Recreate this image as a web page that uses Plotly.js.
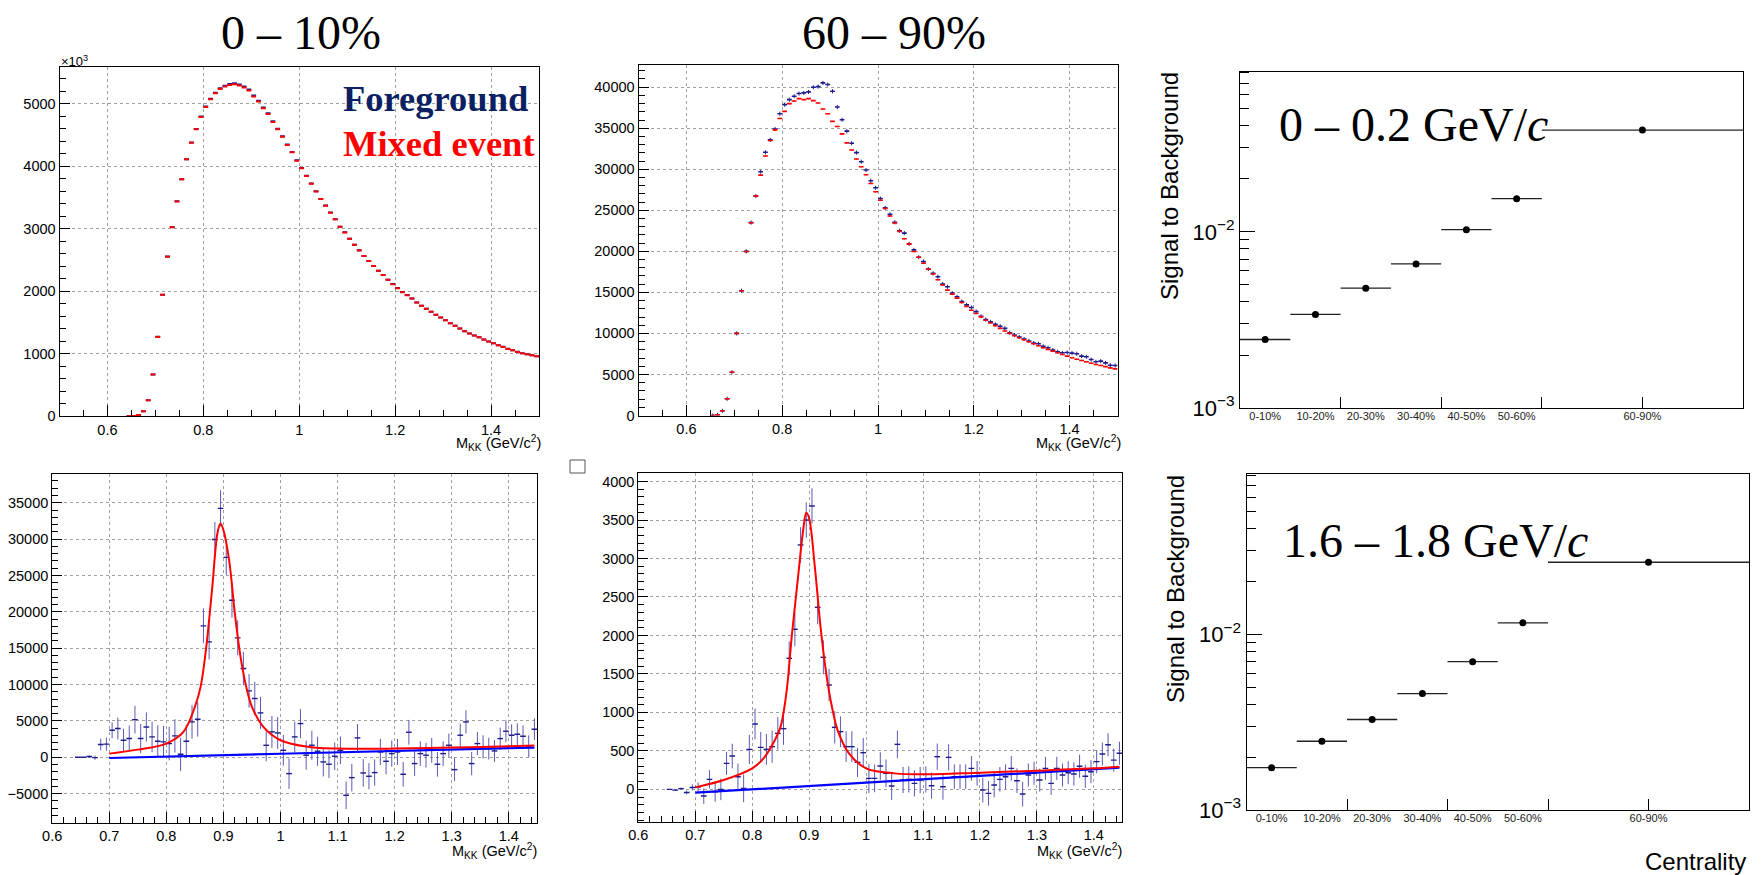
<!DOCTYPE html>
<html><head><meta charset="utf-8">
<script src="https://cdn.plot.ly/plotly-3.0.1.min.js"></script>
<style>html,body{margin:0;padding:0;background:#fff;}#chart{width:1763px;height:875px;}</style>
</head><body><div id="chart"></div>
<script>
// ================= DATA =================
const BIN_WIDTH = 0.01;               // GeV/c^2 per mass bin
// Top-left: 0-10 %, same-event (foreground) and mixed-event invariant mass (x10^3 counts)
const tlFirstBin = 0.645;
const foregroundTL = [0,5,20,82,258,670,1275,1946,2556,3028,
  3442,3796,4116,4383,4598,4797,4958,5082,5180,5250,
  5290,5317,5330,5309,5278,5232,5135,5052,4944,4852,
  4722,4603,4484,4350,4231,4097,3973,3849,3726,3603,
  3480,3373,3261,3154,3035,2944,2843,2747,2656,2565,
  2485,2405,2330,2261,2186,2116,2052,1988,1940,1887,
  1823,1769,1721,1673,1625,1582,1539,1491,1449,1406,
  1363,1326,1294,1267,1230,1198,1171,1139,1112,1080,
  1059,1032,1011,995,979,963];
const mixedTL = [0,5,20,80,256,668,1271,1944,2553,3024,
  3440,3793,4113,4380,4594,4792,4952,5075,5171,5240,
  5278,5304,5315,5294,5262,5214,5118,5037,4930,4840,
  4712,4594,4476,4343,4225,4092,3969,3846,3723,3600,
  3478,3371,3259,3152,3034,2943,2842,2746,2655,2564,
  2484,2404,2329,2260,2185,2115,2051,1987,1939,1886,
  1822,1768,1720,1672,1624,1581,1538,1490,1448,1405,
  1362,1325,1293,1266,1229,1197,1170,1138,1111,1079,
  1058,1031,1010,994,978,962];
// Top-middle: 60-90 %
const tmFirstBin = 0.655;
const foregroundTM = [0,80,570,2040,5270,10000,15200,20000,23500,26720,
  29700,32070,33580,34900,36770,37870,38480,38890,39220,39300,
  39420,39990,40070,40520,40320,39500,37580,36030,34640,33170,
  32030,30920,29900,28600,27740,26430,25290,24510,23530,22510,
  22220,20920,20180,19280,18750,17850,17320,16910,16010,15690,
  14910,14460,13890,13480,13150,12660,12090,11680,11400,11110,
  10870,10620,10090,9800,9560,9310,9070,8820,8740,8420,
  8250,7970,7760,7640,7680,7600,7520,7230,7150,6820,
  6540,6620,6410,6130,6090];
const mixedTM = [0,80,570,2040,5270,10000,15200,19980,23490,26720,
  29290,31620,33500,34800,36190,37050,37990,38320,38600,38480,
  38600,38360,38070,37340,36770,35830,35210,34310,33210,32350,
  31250,30310,29330,28270,27250,26230,25210,24310,23450,22430,
  21530,20880,19980,19280,18550,17810,17240,16540,15890,15280,
  14790,14300,13770,13280,12830,12420,12010,11600,11270,10950,
  10620,10290,10010,9720,9480,9230,8990,8740,8500,8250,
  8050,7840,7640,7430,7230,7030,6860,6700,6540,6370,
  6210,6090,5960,5800,5680];
// Bottom-left: 0-10 % signal (foreground - mixed)
const blFirstBin = 0.645;
const signalBL = [0,0,100,-50,1750,1800,3715,3945,2340,2570,
  5180,2570,4170,2800,2200,2110,1880,2940,410,2200,
  4860,5230,18070,15870,29950,34220,27480,21600,16420,12200,
  9130,8070,6100,1650,3490,3350,960,-2250,2800,4630,
  280,1650,830,-640,-960,140,960,-5230,-2800,2660,
  -2160,-2610,-2110,730,-550,500,730,-2340,3440,-870,
  500,280,960,-960,500,1650,-1700,3030,4860,-870,
  1880,1420,1190,870,2570,3580,3030,3165,2890,1510,3850];
const signalErrBL = [0,0,150,300,800,900,1100,1500,1600,1800,
  1900,2000,2000,2100,2200,2200,2300,2300,2300,2300,
  2300,2400,2400,2400,2400,2500,2400,2400,2400,2300,
  2300,2300,2200,2200,2200,2200,2100,2100,2100,2000,
  2000,2000,2000,2000,1900,1900,1900,1900,1900,1900,
  1900,1800,1800,1800,1800,1800,1800,1700,1700,1700,
  1700,1700,1700,1700,1700,1600,1600,1600,1600,1600,
  1600,1600,1500,1500,1500,1500,1500,1500,1500,1500,1500];
const fitMassBL = [0.7,0.75,0.8,0.83,0.85,0.86,0.87,0.88,0.89,0.895,0.9,0.91,0.92,0.93,0.94,0.95,0.97,1.0,1.05,1.1,1.2,1.3,1.4,1.445];
const fitValBL  = [500,1050,1880,3490,6930,9680,15180,22980,31000,32150,31240,27110,19770,13810,9680,6930,4170,2340,1420,1190,1190,1330,1510,1600];
const bkgMassBL = [0.7,1.0,1.445];
const bkgValBL  = [-100,480,1330];
// Bottom-middle: 60-90 % signal
const bmFirstBin = 0.655;
const signalBM = [0,-10,10,-40,25,30,-87,130,-30,0,
  338,433,165,13,520,850,546,520,555,728,
  789,1703,2080,3176,3500,3683,2366,1716,1356,806,
  750,555,555,351,477,143,143,303,208,43,
  585,121,130,78,121,130,48,425,35,416,
  165,165,165,273,208,-9,-52,56,130,165,
  273,113,-61,186,208,121,273,78,273,186,
  217,200,300,170,230,360,460,580,380,470];
const signalErrBM = [5,10,15,25,40,60,100,120,130,140,
  150,160,170,180,190,200,200,200,210,210,
  210,220,220,230,230,230,220,220,210,210,
  200,200,200,190,190,190,180,180,180,180,
  180,170,170,170,170,170,170,170,170,170,
  160,160,160,160,160,160,160,160,160,160,
  160,160,160,150,150,150,150,150,150,150,
  150,150,150,150,150,150,150,150,150,150];
const fitMassBM = [0.7,0.75,0.8,0.82,0.84,0.85,0.86,0.87,0.88,0.89,0.895,0.9,0.91,0.92,0.93,0.94,0.95,0.97,1.0,1.05,1.1,1.2,1.3,1.4,1.445];
const fitValBM  = [26,121,273,403,641,815,1248,2028,2721,3393,3596,3523,2894,2115,1508,1075,771,468,273,208,195,217,243,273,295];
const bkgMassBM = [0.7,1.0,1.445];
const bkgValBM  = [-43,87,282];
// Right column: signal to background vs centrality
const centralityLabels = ['0-10%','10-20%','20-30%','30-40%','40-50%','50-60%','60-90%'];
const centralityBinEdges = [0,1,2,3,4,5,6,10];
const sbLowPt  = [0.00245,0.0034,0.00479,0.00658,0.0103,0.01545,0.0379];   // 0-0.2 GeV/c
const sbHighPt = [0.00174,0.00246,0.00327,0.00459,0.00697,0.01159,0.0256]; // 1.6-1.8 GeV/c

// ================= HELPERS =================
const W = 1763, H = 875;
const SANS = 'Liberation Sans, Arial, Helvetica, sans-serif';
const SERIF = 'Liberation Serif, Times New Roman, serif';
const NAVY = '#1c1c8c';
const RED = '#ff0000';
const xd = (a,b) => [a/W, b/W];
const yd = (top,bot) => [1-bot/H, 1-top/H];
const centers = (first, n) => Array.from({length:n}, (_,i) => +(first + i*BIN_WIDTH).toFixed(4));
const binCenters = centralityBinEdges.slice(0,-1).map((e,i) => (e + centralityBinEdges[i+1])/2);
const binHalf = centralityBinEdges.slice(0,-1).map((e,i) => (centralityBinEdges[i+1]-e)/2);

function frameAxis(extra){
  return Object.assign({
    showline:true, linecolor:'#000', linewidth:1, mirror:true,
    ticks:'inside', tickcolor:'#000', tickwidth:1,
    zeroline:false, showgrid:true, gridcolor:'#a0a0a0', griddash:'dot', gridwidth:1,
    tickfont:{family:SANS, size:14.5, color:'#000'},
    exponentformat:'none', separatethousands:false, fixedrange:true
  }, extra);
}
const minorTicks = (dtick, len) => ({dtick:dtick, tick0:0, ticks:'inside', ticklen:len, tickcolor:'#000', tickwidth:1, showgrid:false});

function histTrace(x, y, xa, ya, color, thick, errY){
  const t = {type:'scatter', mode:'markers', x:x, y:y, xaxis:xa, yaxis:ya,
    marker:{size:1, opacity:0, color:color}, hoverinfo:'skip',
    error_x:{type:'constant', value:BIN_WIDTH/2, width:0, thickness:thick, color:color}};
  if (errY) t.error_y = Object.assign({width:0, thickness:1, color:color}, errY);
  return t;
}
function lineTrace(x, y, xa, ya, color, width){
  return {type:'scatter', mode:'lines', x:x, y:y, xaxis:xa, yaxis:ya,
    line:{color:color, width:width, shape:'spline'}, hoverinfo:'skip'};
}
function sbTrace(y, xa, ya){
  return {type:'scatter', mode:'markers', x:binCenters, y:y, xaxis:xa, yaxis:ya,
    marker:{size:7, color:'#000'}, hoverinfo:'skip',
    error_x:{type:'data', array:binHalf, width:0, thickness:1.3, color:'#222'}};
}
// empty trace so that the overlaid label axis gets drawn
const emptyTrace = (xa, ya) => ({type:'scatter', mode:'markers', x:[], y:[], xaxis:xa, yaxis:ya, hoverinfo:'skip'});

const xTL = centers(tlFirstBin, mixedTL.length);
const xTM = centers(tmFirstBin, mixedTM.length);
const xBL = centers(blFirstBin, signalBL.length);
const xBM = centers(bmFirstBin, signalBM.length);

const data = [
  histTrace(xTL, foregroundTL, 'x','y', NAVY, 2),
  histTrace(xTL, mixedTL, 'x','y', RED, 2),
  histTrace(xTM, foregroundTM, 'x2','y2', NAVY, 1.6, {type:'constant', value:250}),
  histTrace(xTM, mixedTM, 'x2','y2', RED, 1.6, {type:'constant', value:80}),
  sbTrace(sbLowPt, 'x3','y3'),
  emptyTrace('x7','y3'),
  histTrace(xBL, signalBL, 'x4','y4', NAVY, 1.4, {type:'data', array:signalErrBL, color:'#5a5ab4'}),
  lineTrace(bkgMassBL, bkgValBL, 'x4','y4', '#0000ff', 2.2),
  lineTrace(fitMassBL, fitValBL, 'x4','y4', RED, 2),
  histTrace(xBM, signalBM, 'x5','y5', NAVY, 1.4, {type:'data', array:signalErrBM, color:'#5a5ab4'}),
  lineTrace(bkgMassBM, bkgValBM, 'x5','y5', '#0000ff', 2.2),
  lineTrace(fitMassBM, fitValBM, 'x5','y5', RED, 2),
  sbTrace(sbHighPt, 'x6','y6'),
  emptyTrace('x8','y6')
];

const logMinor = [0.002,0.003,0.004,0.005,0.006,0.007,0.008,0.009,0.02,0.03,0.04,0.05,0.06,0.07,0.08];
function logAxis(domain, anchor){
  return frameAxis({domain:domain, anchor:anchor, type:'log', range:[-3,-1.09], showgrid:false,
    tickmode:'array', tickvals:[0.001,0.01], ticktext:['10<sup>\u22123</sup>','10<sup>\u22122</sup>'],
    ticklen:15, tickfont:{family:SANS, size:22, color:'#000'},
    minor:{tickmode:'array', tickvals:logMinor, ticks:'inside', ticklen:9, tickcolor:'#000', tickwidth:1, showgrid:false}});
}
function centAxis(domain, anchor){
  return frameAxis({domain:domain, anchor:anchor, range:[0,10], showgrid:false, tick0:0, dtick:2,
    ticklen:11, showticklabels:false});
}
function centLabelAxis(over, anchor){
  return {overlaying:over, anchor:anchor, side:'bottom', range:[0,10], showline:false, showgrid:false, zeroline:false,
    ticks:'', tickmode:'array', tickvals:binCenters, ticktext:centralityLabels, fixedrange:true,
    tickfont:{family:SANS, size:11, color:'#222'}};
}

function ann(px, py, text, font, xanchor, extra){
  return Object.assign({xref:'paper', yref:'paper', x:px/W, y:1-py/H, text:text, showarrow:false,
    xanchor:xanchor||'center', yanchor:'middle', font:font}, extra||{});
}
const mkk = 'M<sub>KK</sub> (GeV/c<sup>2</sup>)';
const axTitleFont = {family:SANS, size:14.5, color:'#000'};
const bigSerif = {family:SERIF, size:48, color:'#000'};

const layout = {
  width:W, height:H, margin:{l:0,r:0,t:0,b:0}, paper_bgcolor:'#fff', plot_bgcolor:'#fff', showlegend:false,
  xaxis: frameAxis({domain:xd(59.5,539), anchor:'y', range:[0.5,1.5], tick0:0, dtick:0.2, ticklen:11, minor:minorTicks(0.05,6)}),
  yaxis: frameAxis({domain:yd(67.3,416.3), anchor:'x', range:[0,5586], tick0:0, dtick:1000, ticklen:10, tickformat:'d', minor:minorTicks(200,6)}),
  xaxis2: frameAxis({domain:xd(638.5,1117.5), anchor:'y2', range:[0.5,1.5], tick0:0, dtick:0.2, ticklen:11, minor:minorTicks(0.05,6)}),
  yaxis2: frameAxis({domain:yd(65,415.5), anchor:'x2', range:[0,42700], tick0:0, dtick:5000, ticklen:10, tickformat:'d', minor:minorTicks(1000,6)}),
  xaxis3: centAxis(xd(1240,1743), 'y3'),
  yaxis3: logAxis(yd(71.7,408), 'x3'),
  xaxis4: frameAxis({domain:xd(52.2,537.3), anchor:'y4', range:[0.6,1.45], tick0:0, dtick:0.1, ticklen:11, minor:minorTicks(0.02,6)}),
  yaxis4: frameAxis({domain:yd(474,823), anchor:'x4', range:[-9040,38950], tick0:0, dtick:5000, ticklen:10, tickformat:'d', minor:minorTicks(1000,6)}),
  xaxis5: frameAxis({domain:xd(638.3,1122.3), anchor:'y5', range:[0.6,1.45], tick0:0, dtick:0.1, ticklen:11, minor:minorTicks(0.02,6)}),
  yaxis5: frameAxis({domain:yd(473.3,821.7), anchor:'x5', range:[-420,4107], tick0:0, dtick:500, ticklen:10, tickformat:'d', minor:minorTicks(100,6)}),
  xaxis6: centAxis(xd(1246.5,1749), 'y6'),
  yaxis6: logAxis(yd(474,810), 'x6'),
  xaxis7: centLabelAxis('x3','y3'),
  xaxis8: centLabelAxis('x6','y6'),
  annotations: [
    ann(300.5, 32, '0 \u2013 10%', bigSerif),
    ann(893.5, 32, '60 \u2013 90%', bigSerif),
    ann(341, 99, '<b>Foreground</b>', {family:SERIF, size:36.5, color:'#0b1f62'}, 'left'),
    ann(341, 143, '<b>Mixed event</b>', {family:SERIF, size:36.5, color:RED}, 'left'),
    ann(59, 61, '\u00d710<sup>3</sup>', {family:SANS, size:13, color:'#000'}, 'left'),
    ann(543, 443, mkk, axTitleFont, 'right'),
    ann(1123, 443, mkk, axTitleFont, 'right'),
    ann(539, 851, mkk, axTitleFont, 'right'),
    ann(1124, 851, mkk, axTitleFont, 'right'),
    ann(1277, 125, '0 \u2013 0.2 GeV/<i>c</i>', bigSerif, 'left'),
    ann(1281, 540, '1.6 \u2013 1.8 GeV/<i>c</i>', bigSerif, 'left'),
    ann(1169, 186, 'Signal to Background', {family:SANS, size:24, color:'#000'}, 'center', {textangle:-90}),
    ann(1175, 589, 'Signal to Background', {family:SANS, size:24, color:'#000'}, 'center', {textangle:-90}),
    ann(1748, 861, 'Centrality', {family:SANS, size:24, color:'#000'}, 'right')
  ],
  shapes: [
    {type:'rect', xref:'paper', yref:'paper', x0:570/W, x1:585/W, y0:1-473/H, y1:1-460/H, line:{color:'#555', width:1}}
  ]
};

Plotly.newPlot('chart', data, layout, {staticPlot:true, displayModeBar:false});
</script>
</body></html>
